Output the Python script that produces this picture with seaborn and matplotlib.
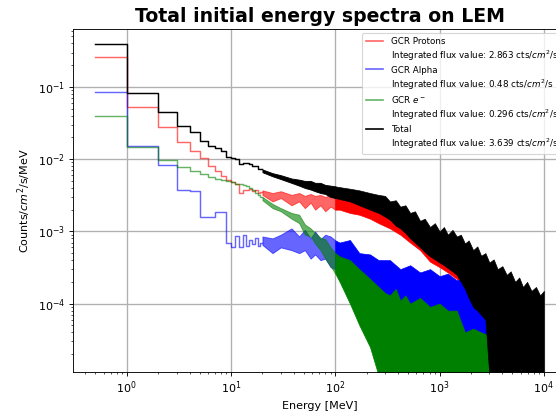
import matplotlib
matplotlib.use("Agg")
import matplotlib.pyplot as plt
from matplotlib.lines import Line2D
import numpy as np
import seaborn as sns

# low-energy bins (MeV), drawn as step histograms
step_edges = [0.5, 1, 2, 3, 4, 5, 6, 7, 8, 9, 10, 11, 12, 13, 14, 15, 16, 17, 18, 19, 20]
protons_step = [0.263, 0.0533, 0.0277, 0.0171, 0.0130, 0.0103, 0.0080, 0.0069, 0.0059, 0.0052,
                0.0048, 0.0045, 0.0034, 0.0037, 0.0038, 0.0039, 0.0036, 0.0038, 0.0034, 0.0035]
alpha_step = [0.0845, 0.0151, 0.0082, 0.0037, 0.0036, 0.0016, 0.0016, 0.00184, 0.00184, 0.00068,
              0.00061, 0.00085, 0.00061, 0.00088, 0.00062, 0.00075, 0.00066, 0.00082, 0.00063, 0.00070]
electron_step = [0.040, 0.0146, 0.0097, 0.0077, 0.0069, 0.0062, 0.0057, 0.0054, 0.0052, 0.0050,
                 0.0049, 0.0046, 0.0045, 0.0044, 0.0043, 0.0040, 0.0037, 0.0034, 0.0032, 0.0030]

# above 20 MeV the 1 MeV bins are narrower than a pixel: keep the min/max envelope
protons_e = [20, 25, 30, 38, 45, 51, 58, 64, 72, 80, 90, 100, 110, 138, 170, 215, 260, 334, 420, 522,
             650, 810, 1000, 1200, 1460, 1750, 2100]
protons_hi = [0.0037, 0.0034, 0.0036, 0.0032, 0.0034, 0.0031, 0.0033, 0.0031, 0.0032, 0.0030,
              0.0032, 0.0030, 0.0031, 0.0030, 0.0029, 0.0027, 0.0025, 0.0021, 0.0018, 0.0015,
              0.0012, 0.0010, 0.0009, 0.0008, 0.0007, 0.0006, 0.0005]
protons_lo = [0.0032, 0.0026, 0.0029, 0.0023, 0.0026, 0.0021, 0.0025, 0.0020, 0.0023, 0.0019,
              0.0022, 0.0020, 0.0020, 0.0018, 0.0017, 0.0015, 0.0013, 0.0011, 0.0009, 0.0007,
              0.00055, 0.00038, 0.00032, 0.00027, 0.00022, 0.00015, 0.0001]

alpha_e = [20, 25, 30, 38, 45, 51, 58, 64, 72, 80, 90, 100, 110, 138, 170, 215, 260, 334, 420, 522,
           650, 810, 1000, 1200, 1460, 1750, 2100, 2500, 3000, 3300]
alpha_hi = [0.00085, 0.00080, 0.00090, 0.00110, 0.00085, 0.00105, 0.00080, 0.00100, 0.00078, 0.00090,
            0.00085, 0.00075, 0.00070, 0.00076, 0.00050, 0.00048, 0.00040, 0.00040, 0.00030, 0.00034,
            0.00027, 0.00030, 0.00024, 0.00026, 0.00021, 0.00022, 0.00015, 0.00012, 0.000075, 0.00007]
alpha_lo = [0.00065, 0.00050, 0.00060, 0.00055, 0.00050, 0.00055, 0.00042, 0.00048, 0.00040, 0.00042,
            0.00032, 0.00030, 0.00026, 0.00021, 0.00015, 0.00011, 0.00008, 0.000045, 0.000035, 0.000035,
            0.000035, 0.000035, 0.000035, 0.000035, 0.000035, 0.000035, 0.000035, 0.000035, 0.000035,
            0.000035]

electron_e = [20, 25, 30, 38, 45, 51, 58, 64, 72, 80, 90, 100, 110, 138, 170, 215, 260, 300, 334, 380,
              420, 470, 522, 650, 810, 1000, 1200, 1460, 1750, 2100, 2500, 3000]
electron_hi = [0.0030, 0.0024, 0.0021, 0.0018, 0.0017, 0.00125, 0.0011, 0.00095, 0.00082, 0.00078,
               0.00060, 0.00050, 0.00045, 0.00040, 0.00030, 0.00022, 0.00017, 0.00014, 0.00013, 0.00016,
               0.00011, 0.00013, 0.00010, 0.00012, 0.00009, 0.00010, 0.00008, 0.00008, 0.00004, 0.000045,
               0.00004, 0.000036]
electron_lo = [0.0027, 0.0021, 0.0019, 0.0015, 0.0013, 0.00090, 0.00085, 0.00068, 0.00055, 0.00042,
               0.00033, 0.00026, 0.00020, 0.00010, 0.00005, 0.000025, 0.00001, 0.00001, 0.00001, 0.00001,
               0.00001, 0.00001, 0.00001, 0.00001, 0.00001, 0.00001, 0.00001, 0.00001, 0.00001, 0.00001,
               0.00001, 0.00001]

total_e = [20, 25, 30, 38, 45, 51, 58, 64, 72, 80, 90, 100, 110, 138, 170, 215, 260, 300, 334, 380,
           420, 470, 522, 580, 650, 720, 810, 900, 1000, 1100, 1200, 1330, 1460, 1600, 1750, 1900,
           2100, 2300, 2500, 2750, 3000, 3300, 3600, 4000, 4400, 4800, 5300, 5800, 6300, 6900, 7600,
           8400, 9200, 10000]
total_hi = [0.0072, 0.0064, 0.0060, 0.0054, 0.0052, 0.0050, 0.0050, 0.0047, 0.0047, 0.0044,
            0.0043, 0.0042, 0.0041, 0.0039, 0.0037, 0.0034, 0.0032, 0.0031, 0.0026, 0.0027,
            0.0022, 0.0023, 0.0018, 0.0019, 0.0014, 0.0015, 0.00115, 0.0013, 0.00100, 0.00115,
            0.00090, 0.00105, 0.00085, 0.00090, 0.00068, 0.00075, 0.00055, 0.00062, 0.00046, 0.00050,
            0.00037, 0.00041, 0.00030, 0.00033, 0.00025, 0.00028, 0.00020, 0.00023, 0.00017, 0.00020,
            0.00015, 0.00017, 0.00013, 0.00015]
total_lo = [0.0066, 0.0058, 0.0053, 0.0047, 0.0043, 0.0040, 0.0038, 0.0036, 0.0034, 0.0033,
            0.0030, 0.0029, 0.0028, 0.0026, 0.0023, 0.0020, 0.0018, 0.0016, 0.00145, 0.0012,
            0.0011, 0.00095, 0.0008, 0.0007, 0.0006, 0.00052, 0.00045, 0.00041, 0.00037, 0.00034,
            0.00031, 0.00028, 0.00025, 0.0002, 0.00016, 0.00012, 0.00009, 0.00008, 0.00007, 0.00006,
            0.00001, 0.00001, 0.00001, 0.00001, 0.00001, 0.00001, 0.00001, 0.00001, 0.00001, 0.00001,
            0.00001, 0.00001, 0.00001, 0.00001]

labels = ["GCR Protons", "GCR Alpha", "GCR $e^-$", "Total"]
fluxes = [2.863, 0.48, 0.296, 3.639]
colors = ["red", "blue", "green", "black"]
alphas = [0.6, 0.6, 0.6, 1.0]
DENSE_FROM = 100  # MeV, where the noisy bins pile up into solid colour

total_step = list(np.array(protons_step) + np.array(alpha_step) + np.array(electron_step))

series = [
    (protons_step, protons_e, protons_lo, protons_hi),
    (alpha_step, alpha_e, alpha_lo, alpha_hi),
    (electron_step, electron_e, electron_lo, electron_hi),
    (total_step, total_e, total_lo, total_hi),
]

fig = plt.figure(figsize=(556 / 80, 416 / 80), dpi=80)
ax = fig.add_axes([0.1313, 0.1058, 0.8872, 0.8245])
ax.set_xscale("log")
ax.set_yscale("log")

for (steps, band_e, band_lo, band_hi), color, alpha in zip(series, colors, alphas):
    sns.lineplot(x=step_edges, y=list(steps) + [steps[-1]], drawstyle="steps-post",
                 estimator=None, color=color, alpha=alpha, lw=1.3, ax=ax)
    e = np.array(band_e)
    lo = np.array(band_lo)
    hi = np.array(band_hi)
    sparse = e <= DENSE_FROM
    dense = e >= DENSE_FROM
    ax.fill_between(e[sparse], lo[sparse], hi[sparse], color=color, alpha=alpha, lw=0.8)
    ax.fill_between(e[dense], lo[dense], hi[dense], color=color, alpha=1.0, lw=0.6)

ax.set_xlim(0.305, 16400)
ax.set_ylim(1.13e-5, 0.635)
ax.set_axisbelow(True)
ax.grid(True, which="major", color="#b0b0b0", linewidth=1.2)

ax.set_title("Total initial energy spectra on LEM", fontsize=17, fontweight="bold")
ax.set_xlabel("Energy [MeV]")
ax.set_ylabel("Counts/$cm^2$/s/MeV")

handles = []
for label, flux, color, alpha in zip(labels, fluxes, colors, alphas):
    handles.append(Line2D([], [], color=color, alpha=alpha, label=label))
    handles.append(Line2D([], [], linestyle="none",
                          label=f"Integrated flux value: {flux} cts/$cm^2$/s"))
ax.legend(handles=handles, loc="upper right", fontsize=7.9, labelspacing=0.3)

fig.savefig("out.png", dpi=80)
